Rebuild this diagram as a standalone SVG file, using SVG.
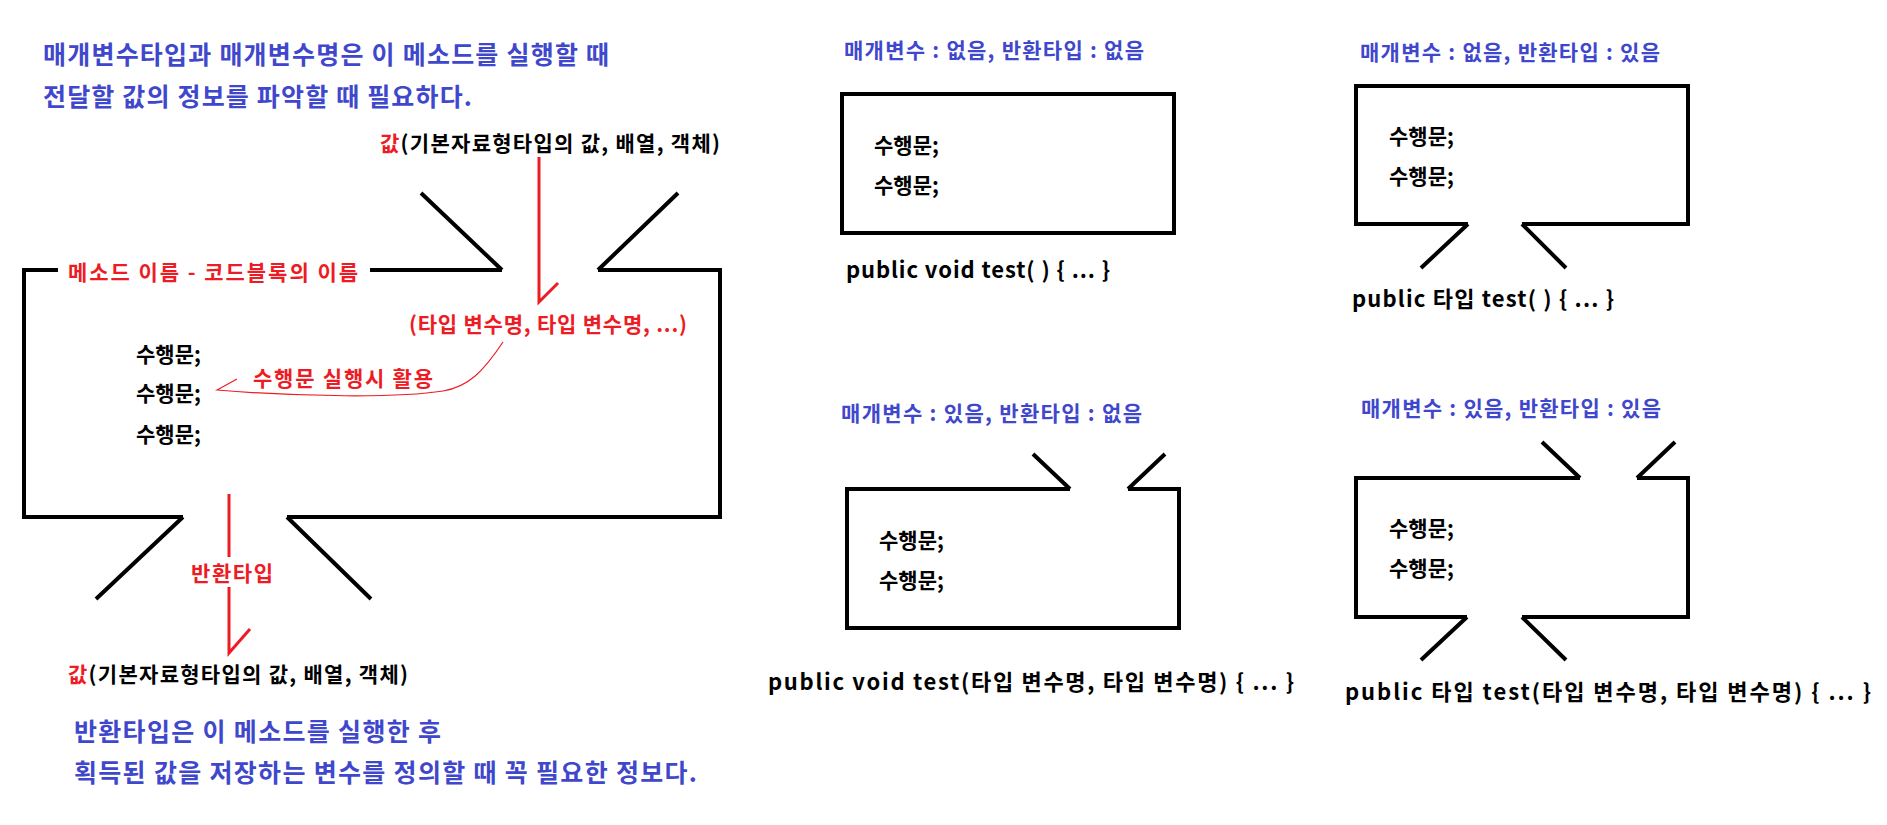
<svg xmlns="http://www.w3.org/2000/svg" width="1887" height="825" viewBox="0 0 1887 825">
<style>
text{font-family:"Noto Sans CJK KR","Malgun Gothic",sans-serif;font-weight:bold;}
.blue{fill:#3F48CC;font-size:25px;}
.sub{fill:#3F48CC;font-size:21px;}
.red{fill:#ED1C24;font-size:21px;}
.blk{fill:#000;font-size:21px;}
.code{fill:#000;font-size:22px;}
.shape{fill:none;stroke:#000;stroke-width:4;stroke-linecap:butt;stroke-linejoin:miter;}
.rl{fill:none;stroke:#ED1C24;stroke-width:3;}
.rthin{fill:none;stroke:#ED1C24;stroke-width:1.2;}
</style>
<rect width="1887" height="825" fill="#fff"/>

<g id="notes">
<text class="blue" x="43" y="64" textLength="566">매개변수타입과 매개변수명은 이 메소드를 실행할 때</text>
<text class="blue" x="43" y="106" textLength="429">전달할 값의 정보를 파악할 때 필요하다.</text>
<text class="blue" x="74" y="741" textLength="367">반환타입은 이 메소드를 실행한 후</text>
<text class="blue" x="74" y="782" textLength="623">획득된 값을 저장하는 변수를 정의할 때 꼭 필요한 정보다.</text>
</g>

<g id="method-block">
<path class="shape" d="M58,270 H24 V517 H183 M287,517 H720 V270 H598 M370,270 H502"/>
<path class="shape" d="M502,270 L421,193 M598,270 L678,193 M183,517 L96,599 M287,517 L371,599"/>
<text class="red" x="68" y="280" textLength="290">메소드 이름 - 코드블록의 이름</text>
<text class="blk" x="136" y="362">수행문;</text>
<text class="blk" x="136" y="401">수행문;</text>
<text class="blk" x="136" y="442">수행문;</text>
</g>

<g id="param-label">
<text class="blk" x="380" y="151" textLength="340"><tspan fill="#ED1C24">값</tspan>(기본자료형타입의 값, 배열, 객체)</text>
<text class="red" x="409" y="332" textLength="278">(타입 변수명, 타입 변수명, ...)</text>
</g>

<g id="usage-label">
<text class="red" x="253" y="386" textLength="180">수행문 실행시 활용</text>
</g>

<g id="return-label">
<text class="red" x="191" y="581" textLength="82">반환타입</text>
<text class="blk" x="68" y="682" textLength="340"><tspan fill="#ED1C24">값</tspan>(기본자료형타입의 값, 배열, 객체)</text>
</g>

<g id="connectors">
<path class="rl" d="M539,157 V302 L558,283"/>
<path class="rl" d="M229,494 V557 M229,587 V653 L250,629"/>
<path class="rthin" d="M503,342 C483,372 468,387 443,391 C400,398 300,397 217,390 L237,379"/>
</g>

<g id="case-none-none">
<text class="sub" x="844" y="58" textLength="300">매개변수 : 없음, 반환타입 : 없음</text>
<rect class="shape" x="842" y="94" width="332" height="139"/>
<text class="blk" x="874" y="153">수행문;</text>
<text class="blk" x="874" y="193">수행문;</text>
<text class="code" x="846" y="278" textLength="264">public void test( ) { ... }</text>
</g>

<g id="case-none-return">
<text class="sub" x="1360" y="60" textLength="300">매개변수 : 없음, 반환타입 : 있음</text>
<path class="shape" d="M1468,224 H1356 V86 H1688 V224 H1522 M1468,224 L1421,268 M1522,224 L1566,268"/>
<text class="blk" x="1389" y="144">수행문;</text>
<text class="blk" x="1389" y="184">수행문;</text>
<text class="code" x="1352" y="307" textLength="262">public 타입 test( ) { ... }</text>
</g>

<g id="case-param-none">
<text class="sub" x="841" y="421" textLength="301">매개변수 : 있음, 반환타입 : 없음</text>
<path class="shape" d="M1070,489 H847 V628 H1179 V489 H1128 M1070,489 L1033,454 M1128,489 L1165,454"/>
<text class="blk" x="879" y="548">수행문;</text>
<text class="blk" x="879" y="588">수행문;</text>
<text class="code" x="768" y="690" textLength="526">public void test(타입 변수명, 타입 변수명) { ... }</text>
</g>

<g id="case-param-return">
<text class="sub" x="1361" y="416" textLength="300">매개변수 : 있음, 반환타입 : 있음</text>
<path class="shape" d="M1580,478 H1356 V617 H1467 M1522,617 H1688 V478 H1637 M1580,478 L1542,442 M1637,478 L1675,442 M1467,617 L1421,660 M1522,617 L1566,660"/>
<text class="blk" x="1389" y="536">수행문;</text>
<text class="blk" x="1389" y="576">수행문;</text>
<text class="code" x="1345" y="700" textLength="526">public 타입 test(타입 변수명, 타입 변수명) { ... }</text>
</g>
</svg>
